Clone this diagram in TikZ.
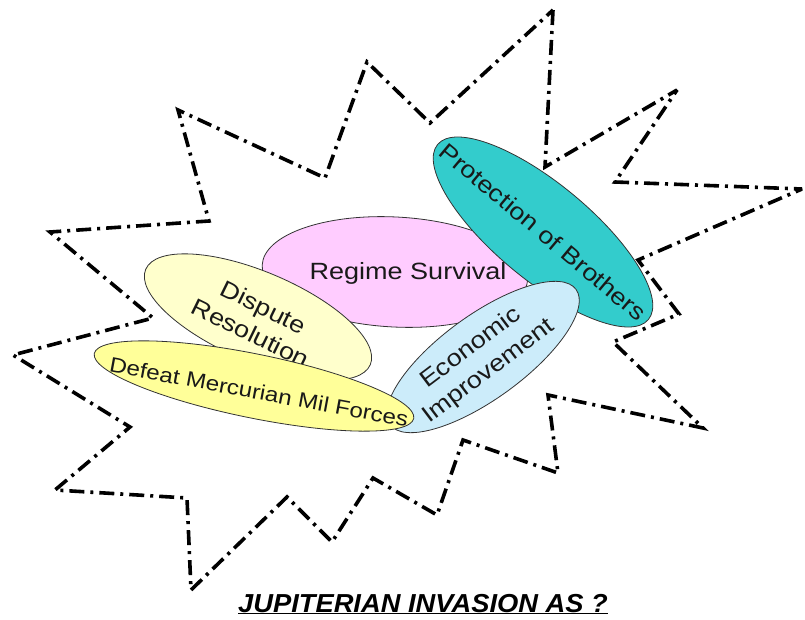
\documentclass[tikz,border=0pt]{standalone}
\usepackage{fontspec}
\setmainfont{Liberation Sans}
\newfontfamily\lblfont[FakeStretch=1.15]{Liberation Sans}
\newfontfamily\ttlfont[FakeStretch=1.05]{Liberation Sans}
\usetikzlibrary{shapes.geometric}
\definecolor{pinkfill}{HTML}{FFCCFF}
\definecolor{tealfill}{HTML}{33CCCC}
\definecolor{bluefill}{HTML}{CCECFA}
\definecolor{paleyellow}{HTML}{FFFFCC}
\definecolor{yellowfill}{HTML}{FFFF99}
\begin{document}
\begin{tikzpicture}[x=1pt, y=-1pt,
  burst/.style={line width=3.6pt, dash pattern=on 15pt off 6pt on 3pt off 6pt,
                line join=miter, miter limit=4},
  blob/.style={ellipse, draw=black!80, line width=0.8pt, inner sep=0pt},
  lbl/.style={font=\lblfont\fontsize{23.5}{29}\selectfont, text=black!90,
              align=center, inner sep=0pt},
]
\useasboundingbox (0,0) rectangle (805,620);

% explosion outline
\draw[burst] (553,10) -- (545,167) -- (677,90) -- (615,182) -- (802,189)
  -- (638,260) -- (679,314) -- (613,342) -- (703,428) -- (548,395)
  -- (558,473) -- (463,440) -- (437,515) -- (373,478) -- (332,542)
  -- (287,497) -- (191,590) -- (187,498) -- (55,490) -- (130,427)
  -- (13,355) -- (153,318) -- (50,232) -- (209,221) -- (178,110)
  -- (325,178) -- (367,62) -- (430,123) -- cycle;

% motive ellipses, back to front
\node[blob, fill=pinkfill, minimum width=266pt, minimum height=110pt, rotate=-3]
  (regime) at (395,272) {};
\node[lbl] (regimeText) at (408,273) {Regime Survival};

\node[blob, fill=tealfill, minimum width=274pt, minimum height=96pt, rotate=-39.7]
  (brothers) at (543,232) {};
\node[lbl, rotate=-40] (brothersText) at (543,232) {Protection of Brothers};

\node[blob, fill=bluefill, minimum width=230pt, minimum height=84pt, rotate=36]
  (economy) at (483,357) {};
\node[lbl, rotate=37] (economyText) at (480,360) {Economic\\Improvement};

\node[blob, fill=paleyellow, minimum width=244pt, minimum height=90pt, rotate=-23]
  (dispute) at (258,317) {};
\node[lbl, rotate=-26] (disputeText) at (257,320) {Dispute\\Resolution};

\node[blob, fill=yellowfill, minimum width=326pt, minimum height=64pt, rotate=-11.5]
  (defeat) at (254,386) {};
\node[lbl, font=\lblfont\fontsize{21}{25}\selectfont, rotate=-10.5]
  (defeatText) at (259,392) {Defeat Mercurian Mil Forces};

% caption
\node[anchor=base, inner sep=0pt, font=\ttlfont\bfseries\itshape\fontsize{26}{30}\selectfont]
  (caption) at (423,612) {\underline{JUPITERIAN INVASION AS ?}};
\end{tikzpicture}
\end{document}
